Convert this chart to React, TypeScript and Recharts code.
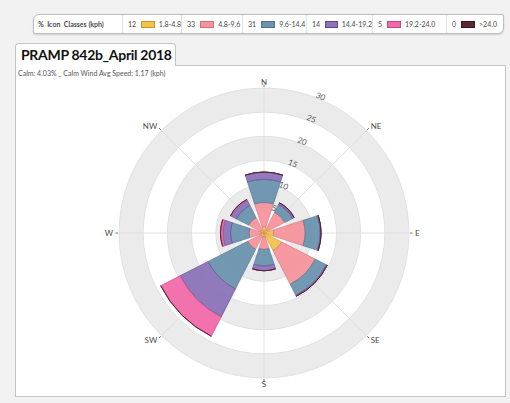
import React from 'react';
import { RadialBarChart, RadialBar, PolarAngleAxis, PolarRadiusAxis, PolarGrid } from 'recharts';

const directions = ['N', 'NE', 'E', 'SE', 'S', 'SW', 'W', 'NW'];
const speedClasses = ['1.8-4.8', '4.8-9.6', '9.6-14.4', '14.4-19.2', '19.2-24.0', '>24.0'];
const classPercents = [12, 33, 31, 14, 5, 0];
const classColors = ['#f3c24f', '#f6939c', '#6b93ae', '#8c74b9', '#f06aa9', '#5b2836'];
const classStrokes = ['#c9962a', '#d4707b', '#4d7390', '#5e4590', '#c84585', '#3a1520'];

// percent of time per direction for each speed class
const class1 = [1.3, 0.8, 2.0, 4.1, 0.8, 0.8, 0.6, 0.7];
const class2 = [5.0, 4.0, 6.5, 7.8, 2.6, 3.0, 2.5, 2.9];
const class3 = [4.8, 1.8, 3.1, 2.6, 3.4, 9.2, 3.8, 2.8];
const class4 = [1.5, 0.4, 0.2, 0.2, 1.0, 6.5, 1.6, 1.2];
const class5 = [0, 0, 0, 0, 0, 4.5, 0.5, 0.2];
const class6 = [0, 0, 0, 0, 0, 0, 0, 0];
const classSeries = [class1, class2, class3, class4, class5, class6];

const radiusTicks = [5, 10, 15, 20, 25, 30];
const bandTicks = [7.5, 17.5, 27.5];

const data = directions.map((dir, i) => {
  const row: Record<string, any> = { dir };
  classSeries.forEach((s, k) => {
    row['c' + k] = s[i];
  });
  return row;
});

const font = 'Lato, "Open Sans", sans-serif';
const CX = 264;
const CY = 233;
const OUTER = 145;
const RAD = Math.PI / 180;
const halfBand = 180 / directions.length;
const gridAngles = directions.map((_, i) => 90 - (i * 360) / directions.length);

function CompassTick(props: any) {
  const { x, y, payload } = props;
  const theta = (Math.atan2(CY - y, x - CX) / RAD + halfBand) * RAD;
  const c = Math.cos(theta);
  const s = Math.sin(theta);
  const r0 = OUTER + 1;
  const r1 = OUTER + 3.5;
  const rl = OUTER + 6;
  const anchor = Math.abs(c) < 0.1 ? 'middle' : c > 0 ? 'start' : 'end';
  return (
    <g>
      <line x1={CX + r0 * c} y1={CY - r0 * s} x2={CX + r1 * c} y2={CY - r1 * s} stroke="#777" strokeWidth={1} />
      <text
        x={CX + rl * c}
        y={CY - rl * s}
        textAnchor={anchor}
        dominantBaseline="central"
        fontSize={8}
        style={{ fill: '#4a4a4a' }}
        fontFamily={font}
      >
        {payload.value}
      </text>
    </g>
  );
}

export default function App() {
  return (
    <div
      style={{
        position: 'absolute',
        left: 0,
        top: 0,
        width: 510,
        height: 403,
        background: '#f2f2f2',
        overflow: 'hidden',
        fontFamily: font,
      }}
    >
      {/* legend */}
      <div
        style={{
          position: 'absolute',
          left: 33,
          top: 14,
          width: 469,
          height: 18,
          background: '#fff',
          border: '1px solid #bdbdbd',
          borderRadius: '6px 2px 6px 2px',
          boxShadow: '0 1px 2px rgba(0,0,0,0.15)',
          display: 'flex',
          alignItems: 'center',
          fontSize: 7,
          color: '#4a4a4a',
          whiteSpace: 'nowrap',
        }}
      >
        <div style={{ width: 89, paddingLeft: 4, fontWeight: 700, boxSizing: 'border-box', borderRight: '1px solid #e0e0e0', height: '100%', display: 'flex', alignItems: 'center' }}>
          %&nbsp;&nbsp;Icon&nbsp;&nbsp;Classes (kph)
        </div>
        {speedClasses.map((c, i) => (
          <div
            key={c}
            style={{
              width: [59, 61, 64, 66, 74, 55][i],
              boxSizing: 'border-box',
              paddingLeft: 5,
              borderRight: i < 5 ? '1px solid #e0e0e0' : 'none',
              height: '100%',
              display: 'flex',
              alignItems: 'center',
            }}
          >
            <span>{classPercents[i]}</span>
            <span
              style={{
                display: 'inline-block',
                width: 12,
                height: 5,
                marginLeft: 5,
                marginRight: 4,
                background: classColors[i],
                border: '1px solid ' + classStrokes[i],
              }}
            />
            <span>{c}</span>
          </div>
        ))}
      </div>

      {/* title tab */}
      <div
        style={{
          position: 'absolute',
          left: 15,
          top: 43,
          width: 161,
          height: 23,
          background: '#fff',
          border: '1px solid #c4c4c4',
          borderBottom: 'none',
          borderRadius: '4px 4px 0 0',
          boxSizing: 'border-box',
          fontWeight: 700,
          fontSize: 14,
          letterSpacing: -0.3,
          whiteSpace: 'nowrap',
          color: '#111',
          paddingLeft: 5,
          lineHeight: '22px',
          zIndex: 2,
        }}
      >
        PRAMP 842b_April 2018
      </div>

      {/* panel */}
      <div
        style={{
          position: 'absolute',
          left: 15,
          top: 65,
          width: 491,
          height: 332,
          background: '#fff',
          border: '1px solid #c4c4c4',
          boxSizing: 'border-box',
        }}
      />
      <div style={{ position: 'absolute', left: 18, top: 69, fontSize: 7, color: '#555', whiteSpace: 'nowrap' }}>
        Calm: 4.03% _ Calm Wind Avg Speed: 1.17 (kph)
      </div>

      <div style={{ position: 'absolute', left: 0, top: 0 }}>
        <RadialBarChart
          width={510}
          height={403}
          data={data}
          layout="centric"
          cx={CX}
          cy={CY}
          innerRadius={0}
          outerRadius={OUTER}
          startAngle={67.5}
          endAngle={-292.5}
          barCategoryGap="10%"
          margin={{ top: 0, right: 0, bottom: 0, left: 0 }}
        >
          <PolarGrid
            gridType="circle"
            radiusAxisId="bands"
            radialLines={false}
            stroke="#ebebeb"
            strokeWidth={24.2}
          />
          <PolarGrid gridType="circle" polarAngles={gridAngles} stroke="#dcdcdc" strokeWidth={0.8} />
          <PolarAngleAxis
            dataKey="dir"
            type="category"
            tick={CompassTick}
            tickLine={false}
            axisLine={false}
          />
          <PolarRadiusAxis
            type="number"
            domain={[0, 30]}
            allowDataOverflow
            ticks={radiusTicks}
            angle={67.5}
            orientation="middle"
            axisLine={false}
            tick={{ fontSize: 8, fill: '#555', fontFamily: font }}
          />
          <PolarRadiusAxis
            radiusAxisId="bands"
            type="number"
            domain={[0, 30]}
            allowDataOverflow
            ticks={bandTicks}
            tick={false}
            axisLine={false}
          />
          {speedClasses.map((c, k) => (
            <RadialBar
              key={c}
              dataKey={'c' + k}
              name={c}
              stackId="a"
              fill={classColors[k]}
              fillOpacity={0.95}
              stroke={classStrokes[k]}
              strokeWidth={0.6}
              isAnimationActive={false}
            />
          ))}
        </RadialBarChart>
      </div>
    </div>
  );
}
